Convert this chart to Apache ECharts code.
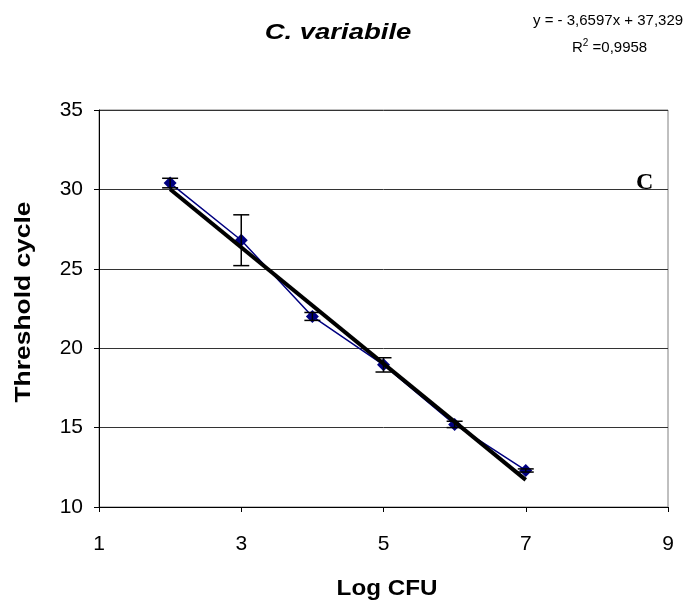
<!DOCTYPE html>
<html>
<head>
<meta charset="utf-8">
<script src="https://cdn.jsdelivr.net/npm/echarts@6/dist/echarts.min.js"></script>
<style>html,body{margin:0;padding:0;background:#fff}#c{width:688px;height:608px}</style>
</head>
<body>
<div id="c"></div>
<script>
const logCFU = [2, 3, 4, 5, 6, 7];
const thresholdCycle = [30.4, 26.8, 22.0, 18.95, 15.2, 12.3];
const errorSD = [0.3, 1.6, 0.25, 0.45, 0.2, 0.1];
const trendX = [2, 7];
const trendY = [30.01, 11.71];
const xTicks = [1, 3, 5, 7, 9];
const yTicks = [10, 15, 20, 25, 30, 35];

const chart = echarts.init(document.getElementById('c'), null, {renderer: 'canvas'});
const font = 'Liberation Sans, Arial, sans-serif';
const errData = logCFU.map((x, i) => [x, thresholdCycle[i] - errorSD[i], thresholdCycle[i] + errorSD[i]]);

chart.setOption({
  animation: false,
  backgroundColor: '#fff',
  grid: {left: 99, right: 20, top: 110, bottom: 101, show: true, borderColor: '#808080', borderWidth: 1},
  graphic: [
    {type: 'text', x: 338, y: 33, scaleX: 1.25,
     style: {text: 'C. variabile', font: 'italic bold 22px ' + font, fill: '#000', align: 'center', verticalAlign: 'middle'}},
    {type: 'text', x: 387, y: 589, scaleX: 1.1,
     style: {text: 'Log CFU', font: 'bold 22px ' + font, fill: '#000', align: 'center', verticalAlign: 'middle'}},
    {type: 'text', x: 24, y: 302, rotation: Math.PI / 2, scaleX: 1.2,
     style: {text: 'Threshold cycle', font: 'bold 22px ' + font, fill: '#000', align: 'center', verticalAlign: 'middle'}},
    {type: 'text', left: 533, top: 13, style: {text: 'y = - 3,6597x + 37,329', font: '15px ' + font, fill: '#000'}},
    {type: 'text', left: 572, top: 38, style: {
      text: '{a|R}{s|2}{a| =0,9958}',
      rich: {a: {fontFamily: font, fontSize: 15, fill: '#000', verticalAlign: 'bottom'},
             s: {fontFamily: font, fontSize: 10, fill: '#000', padding: [0, 0, 7, 0], verticalAlign: 'bottom'}}
    }},
    {type: 'text', left: 636, top: 171, style: {text: 'C', font: 'bold 24px Liberation Serif, Times New Roman, serif', fill: '#000'}}
  ],
  xAxis: {
    type: 'value', min: xTicks[0], max: xTicks[xTicks.length - 1], interval: 2,
    axisLine: {onZero: false, lineStyle: {color: '#000', width: 1}},
    axisTick: {show: true, length: 5, lineStyle: {color: '#000'}},
    axisLabel: {fontFamily: font, fontSize: 21, color: '#000', margin: 27},
    splitLine: {show: false}
  },
  yAxis: {
    type: 'value', min: yTicks[0], max: yTicks[yTicks.length - 1], interval: 5,
    axisLine: {show: true, onZero: false, lineStyle: {color: '#000', width: 1}},
    axisTick: {show: true, length: 5, lineStyle: {color: '#000'}},
    axisLabel: {fontFamily: font, fontSize: 21, color: '#000', margin: 16},
    splitLine: {show: true, lineStyle: {color: '#333', width: 1}}
  },
  series: [
    {
      type: 'line', data: logCFU.map((x, i) => [x, thresholdCycle[i]]),
      lineStyle: {color: '#000080', width: 1.5}, itemStyle: {color: '#000080'},
      symbol: 'diamond', symbolSize: 13, z: 3
    },
    {
      type: 'custom', data: errData, z: 4,
      renderItem: function (params, api) {
        const x = api.value(0);
        const lo = api.coord([x, api.value(1)]);
        const hi = api.coord([x, api.value(2)]);
        const w = 8;
        const st = {stroke: '#000', lineWidth: 1.5};
        return {type: 'group', children: [
          {type: 'line', shape: {x1: lo[0], y1: lo[1], x2: hi[0], y2: hi[1]}, style: st},
          {type: 'line', shape: {x1: lo[0] - w, y1: lo[1], x2: lo[0] + w, y2: lo[1]}, style: st},
          {type: 'line', shape: {x1: hi[0] - w, y1: hi[1], x2: hi[0] + w, y2: hi[1]}, style: st}
        ]};
      }
    },
    {
      type: 'line', data: trendX.map((x, i) => [x, trendY[i]]),
      lineStyle: {color: '#000', width: 4}, symbol: 'none', z: 5
    }
  ]
});
</script>
</body>
</html>
